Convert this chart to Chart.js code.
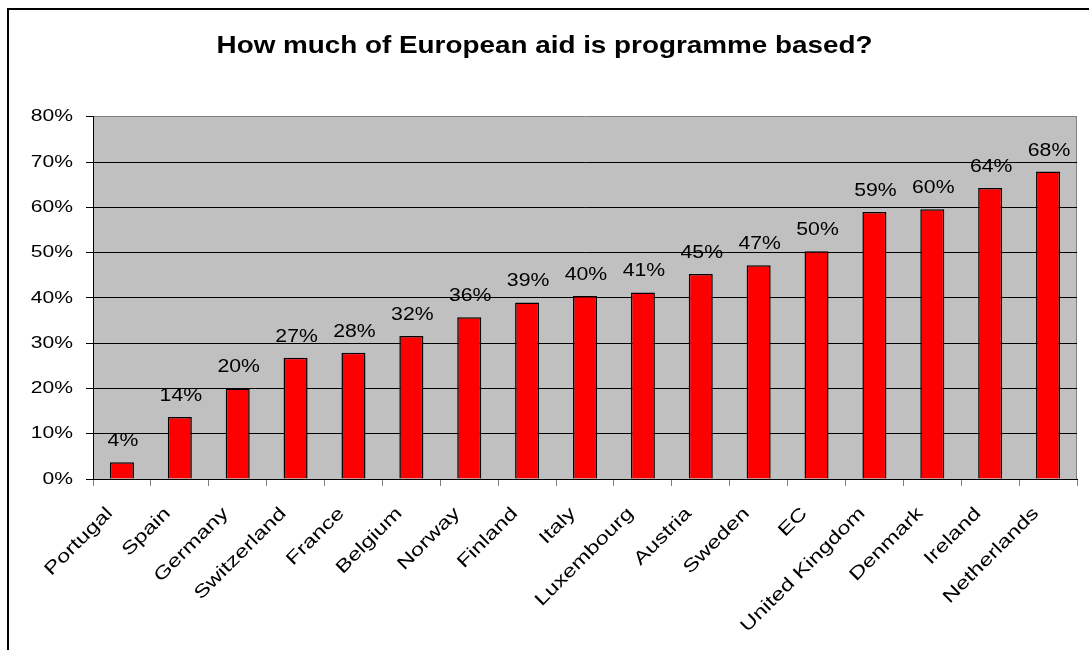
<!DOCTYPE html>
<html>
<head>
<meta charset="utf-8">
<script src="https://cdn.jsdelivr.net/npm/chart.js@4.4.0/dist/chart.umd.min.js"></script>
<style>
html,body{margin:0;padding:0;background:#fff;overflow:hidden}
canvas{display:block}
</style>
</head>
<body>
<canvas id="c" width="1089" height="650"></canvas>
<script>
// ---- data ----
const chartTitle = 'How much of European aid is programme based?';
const countries = ['Portugal','Spain','Germany','Switzerland','France','Belgium','Norway','Finland','Italy','Luxembourg','Austria','Sweden','EC','United Kingdom','Denmark','Ireland','Netherlands'];
const shares = [3.7, 13.7, 20.0, 26.8, 27.9, 31.6, 35.7, 39.0, 40.4, 41.2, 45.3, 47.2, 50.3, 59.0, 59.6, 64.3, 67.9];
const yMin = 0;
const yMax = 80;
const yStep = 10;

const FONT = '"Liberation Sans", Arial, sans-serif';

// The reference text is drawn horizontally stretched; widen glyphs along the text direction.
const baseFillText = CanvasRenderingContext2D.prototype.fillText;
function withStretch(ctx, sx, fn) {
  ctx.fillText = function (t, x, y) {
    this.save();
    this.translate(x, y);
    this.scale(sx, 1);
    baseFillText.call(this, t, 0, 0);
    this.restore();
  };
  try { fn(); } finally { delete ctx.fillText; }
}
function stretchedLabels(scale, sx) {
  if (scale._stretched) return;
  const proto = Object.getPrototypeOf(scale);
  scale.drawLabels = function (area) {
    withStretch(this.ctx, sx, () => proto.drawLabels.call(this, area));
  };
  scale._stretched = true;
}

const excelLook = {
  id: 'excelLook',
  afterLayout(chart) {
    const tb = chart.titleBlock;
    if (tb && !tb._stretched) {
      const orig = tb.draw;
      tb.draw = function (area) { withStretch(this.ctx, 1.16, () => orig.call(this, area)); };
      tb._stretched = true;
    }
  },
  beforeDraw(chart) {
    const ctx = chart.ctx, a = chart.chartArea;
    ctx.save();
    ctx.fillStyle = '#ffffff';
    ctx.fillRect(0, 0, chart.width, chart.height);
    ctx.strokeStyle = '#000000';
    ctx.lineWidth = 2;
    ctx.beginPath();
    ctx.moveTo(8, chart.height + 10);
    ctx.lineTo(8, 9);
    ctx.lineTo(chart.width + 10, 9);
    ctx.stroke();
    ctx.fillStyle = '#c0c0c0';
    ctx.fillRect(a.left, a.top, a.right - a.left, a.bottom - a.top);
    ctx.strokeStyle = '#808080';
    ctx.lineWidth = 1;
    ctx.beginPath();
    ctx.moveTo(Math.round(a.right) - 0.5, a.top);
    ctx.lineTo(Math.round(a.right) - 0.5, a.bottom);
    ctx.stroke();
    ctx.restore();
  },
  afterDatasetsDraw(chart) {
    const ctx = chart.ctx;
    const meta = chart.getDatasetMeta(0);
    ctx.save();
    ctx.font = '18px ' + FONT;
    ctx.fillStyle = '#000';
    ctx.textAlign = 'center';
    ctx.textBaseline = 'alphabetic';
    withStretch(ctx, 1.18, () => {
      meta.data.forEach((bar, i) => {
        ctx.fillText(Math.round(shares[i]) + '%', bar.x + 1, bar.y - 16);
      });
    });
    ctx.restore();
  }
};

new Chart(document.getElementById('c'), {
  type: 'bar',
  data: {
    labels: countries,
    datasets: [{
      data: shares,
      backgroundColor: '#ff0000',
      borderColor: '#000000',
      borderWidth: 1.5,
      categoryPercentage: 1,
      barPercentage: 0.415
    }]
  },
  options: {
    responsive: false,
    animation: false,
    devicePixelRatio: 1,
    layout: { padding: 0 },
    plugins: {
      legend: { display: false },
      tooltip: { enabled: false },
      title: {
        display: true,
        text: chartTitle,
        color: '#000',
        font: { family: FONT, size: 24, weight: 'bold' },
        padding: { top: 32, bottom: 56 }
      }
    },
    scales: {
      x: {
        grid: { display: true, drawOnChartArea: false, drawTicks: true, tickLength: 7, color: '#808080', offset: true },
        border: { display: true, color: '#000', width: 1 },
        ticks: {
          font: { family: FONT, size: 18 }, color: '#000',
          maxRotation: 45, minRotation: 45, autoSkip: false,
          labelOffset: -12, padding: 17
        },
        afterFit(s) { s.height = 171; stretchedLabels(s, 1.31); }
      },
      y: {
        min: yMin, max: yMax,
        ticks: {
          stepSize: yStep,
          callback: v => v + '%',
          font: { family: FONT, size: 17 }, color: '#000', padding: 13
        },
        grid: {
          color: c => (c.tick && c.tick.value === yMax) ? '#808080' : '#000000',
          tickColor: '#000000',
          tickLength: 7,
          lineWidth: 1
        },
        border: { display: true, color: '#000', width: 1 },
        afterFit(s) { s.width = 93; stretchedLabels(s, 1.24); }
      },
      yR: {
        position: 'right',
        display: true,
        min: 0, max: 1,
        grid: { display: false },
        ticks: { display: false },
        border: { display: false },
        afterFit(s) { s.width = 12; }
      }
    }
  },
  plugins: [excelLook]
});
</script>
</body>
</html>
